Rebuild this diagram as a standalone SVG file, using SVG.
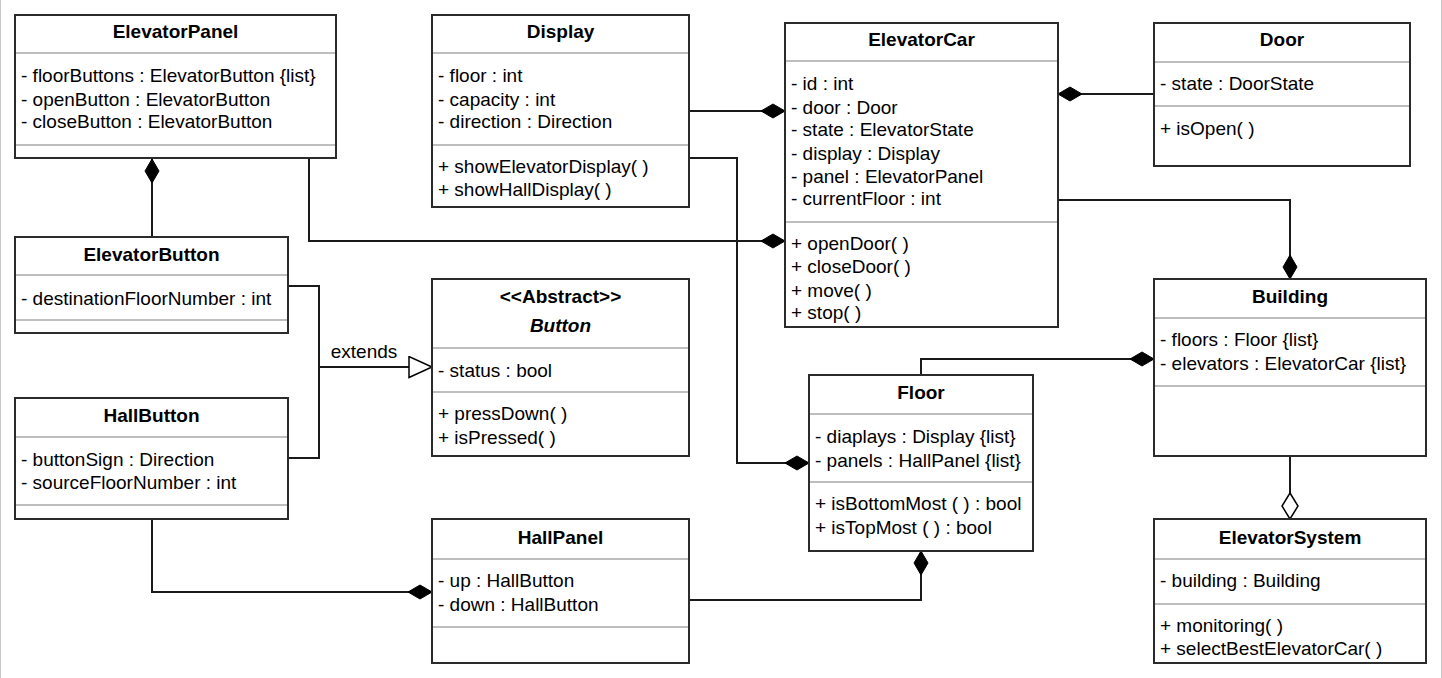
<svg xmlns="http://www.w3.org/2000/svg" width="1442" height="678" viewBox="0 0 1442 678">
<style>
  text { font-family: "Liberation Sans", Arial, sans-serif; font-size: 19px; fill: #000; }
  .t { font-weight: bold; text-anchor: middle; }
  .ti { font-weight: bold; font-style: italic; text-anchor: middle; }
  .box { fill: #fff; stroke: #2b2b2b; stroke-width: 2; }
  .sep { stroke: #a8a8a8; stroke-width: 1.5; fill: none; }
  .edge { fill: none; stroke: #1a1a1a; stroke-width: 2; }
  .frame { stroke: #c8c8c8; stroke-width: 1; }
</style>
<defs>
  <marker id="comp" markerUnits="userSpaceOnUse" markerWidth="26" markerHeight="16" viewBox="-1 -1 26 16" refX="0" refY="7" orient="auto">
    <path d="M0,7 L12,0 L24,7 L12,14 Z" fill="#000" stroke="#000" stroke-width="1"/>
  </marker>
  <marker id="agg" markerUnits="userSpaceOnUse" markerWidth="30" markerHeight="20" viewBox="-1 -1 30 20" refX="0" refY="8" orient="auto">
    <path d="M0,8 L13,0 L26,8 L13,16 Z" fill="#fff" stroke="#000" stroke-width="1.5"/>
  </marker>
  <marker id="gen" markerUnits="userSpaceOnUse" markerWidth="26" markerHeight="24" viewBox="-1 -1 26 24" refX="23" refY="10.5" orient="auto">
    <path d="M0,0 L23,10.5 L0,21 Z" fill="#fff" stroke="#000" stroke-width="1.5"/>
  </marker>
</defs>
<rect x="0" y="0" width="1442" height="678" fill="#fff"/>
<line class="frame" x1="0.5" y1="0" x2="0.5" y2="678"/>
<line class="frame" x1="1441.5" y1="0" x2="1441.5" y2="678"/>

<g id="connectors">
  <path class="edge" d="M152,159 L152,237" marker-start="url(#comp)"/>
  <path class="edge" d="M785,241 L309,241 L309,159" marker-start="url(#comp)"/>
  <path class="edge" d="M785,111 L689,111" marker-start="url(#comp)"/>
  <path class="edge" d="M809,463 L737,463 L737,158 L689,158" marker-start="url(#comp)"/>
  <path class="edge" d="M1058,94 L1154,94" marker-start="url(#comp)"/>
  <path class="edge" d="M1290,279 L1290,200 L1058,200" marker-start="url(#comp)"/>
  <path class="edge" d="M1154,359 L921,359 L921,375" marker-start="url(#comp)"/>
  <path class="edge" d="M1290,519 L1290,456" marker-start="url(#agg)"/>
  <path class="edge" d="M432,592 L152,592 L152,519" marker-start="url(#comp)"/>
  <path class="edge" d="M921,551 L921,600 L689,600" marker-start="url(#comp)"/>
  <path class="edge" d="M288,286 L319,286 L319,458 L288,458"/>
  <path class="edge" d="M319,367 L432,367" marker-end="url(#gen)"/>
  <text x="364" y="358" text-anchor="middle">extends</text>
</g>

<g id="ElevatorPanel">
  <rect class="box" x="15" y="15" width="321" height="143"/>
  <line class="sep" x1="16" y1="53" x2="335" y2="53"/>
  <line class="sep" x1="16" y1="145" x2="335" y2="145"/>
  <text class="t" x="175.5" y="38">ElevatorPanel</text>
  <text x="21" y="82">- floorButtons : ElevatorButton {list}</text>
  <text x="21" y="105.5">- openButton : ElevatorButton</text>
  <text x="21" y="128">- closeButton : ElevatorButton</text>
</g>

<g id="Display">
  <rect class="box" x="432" y="15" width="257" height="192"/>
  <line class="sep" x1="433" y1="53" x2="688" y2="53"/>
  <line class="sep" x1="433" y1="145" x2="688" y2="145"/>
  <text class="t" x="560.5" y="38">Display</text>
  <text x="438" y="82">- floor : int</text>
  <text x="438" y="105.5">- capacity : int</text>
  <text x="438" y="128">- direction : Direction</text>
  <text x="438" y="172.5">+ showElevatorDisplay( )</text>
  <text x="438" y="195.5">+ showHallDisplay( )</text>
</g>

<g id="ElevatorCar">
  <rect class="box" x="785" y="23" width="273" height="304"/>
  <line class="sep" x1="786" y1="61" x2="1057" y2="61"/>
  <line class="sep" x1="786" y1="222" x2="1057" y2="222"/>
  <text class="t" x="921.5" y="46">ElevatorCar</text>
  <text x="791" y="90">- id : int</text>
  <text x="791" y="113.5">- door : Door</text>
  <text x="791" y="136">- state : ElevatorState</text>
  <text x="791" y="159.5">- display : Display</text>
  <text x="791" y="182.5">- panel : ElevatorPanel</text>
  <text x="791" y="205">- currentFloor : int</text>
  <text x="791" y="249.5">+ openDoor( )</text>
  <text x="791" y="273">+ closeDoor( )</text>
  <text x="791" y="296.5">+ move( )</text>
  <text x="791" y="319">+ stop( )</text>
</g>

<g id="Door">
  <rect class="box" x="1154" y="23" width="256" height="143"/>
  <line class="sep" x1="1155" y1="62" x2="1409" y2="62"/>
  <line class="sep" x1="1155" y1="106" x2="1409" y2="106"/>
  <text class="t" x="1282" y="46">Door</text>
  <text x="1160" y="90">- state : DoorState</text>
  <text x="1160" y="134.5">+ isOpen( )</text>
</g>

<g id="ElevatorButton">
  <rect class="box" x="15" y="237" width="273" height="96"/>
  <line class="sep" x1="16" y1="275" x2="287" y2="275"/>
  <line class="sep" x1="16" y1="320" x2="287" y2="320"/>
  <text class="t" x="151.5" y="261">ElevatorButton</text>
  <text x="21" y="304.5">- destinationFloorNumber : int</text>
</g>

<g id="Button">
  <rect class="box" x="432" y="279" width="257" height="177"/>
  <line class="sep" x1="433" y1="348" x2="688" y2="348"/>
  <line class="sep" x1="433" y1="392" x2="688" y2="392"/>
  <text class="t" x="560.5" y="302.5">&lt;&lt;Abstract&gt;&gt;</text>
  <text class="ti" x="560.5" y="331.5">Button</text>
  <text x="438" y="377">- status : bool</text>
  <text x="438" y="419.5">+ pressDown( )</text>
  <text x="438" y="443.5">+ isPressed( )</text>
</g>

<g id="HallButton">
  <rect class="box" x="15" y="398" width="273" height="121"/>
  <line class="sep" x1="16" y1="437" x2="287" y2="437"/>
  <line class="sep" x1="16" y1="505" x2="287" y2="505"/>
  <text class="t" x="151.5" y="421.5">HallButton</text>
  <text x="21" y="465.5">- buttonSign : Direction</text>
  <text x="21" y="488.5">- sourceFloorNumber : int</text>
</g>

<g id="HallPanel">
  <rect class="box" x="432" y="519" width="257" height="144"/>
  <line class="sep" x1="433" y1="559" x2="688" y2="559"/>
  <line class="sep" x1="433" y1="627" x2="688" y2="627"/>
  <text class="t" x="560.5" y="543.5">HallPanel</text>
  <text x="438" y="586.5">- up : HallButton</text>
  <text x="438" y="610.5">- down : HallButton</text>
</g>

<g id="Floor">
  <rect class="box" x="809" y="375" width="224" height="176"/>
  <line class="sep" x1="810" y1="414" x2="1032" y2="414"/>
  <line class="sep" x1="810" y1="482" x2="1032" y2="482"/>
  <text class="t" x="921" y="398.5">Floor</text>
  <text x="815" y="442.5">- diaplays : Display {list}</text>
  <text x="815" y="466.5">- panels : HallPanel {list}</text>
  <text x="815" y="509.5">+ isBottomMost ( ) : bool</text>
  <text x="815" y="533.5">+ isTopMost ( ) : bool</text>
</g>

<g id="Building">
  <rect class="box" x="1154" y="279" width="272" height="177"/>
  <line class="sep" x1="1155" y1="318" x2="1425" y2="318"/>
  <line class="sep" x1="1155" y1="386" x2="1425" y2="386"/>
  <text class="t" x="1290" y="302.5">Building</text>
  <text x="1160" y="345.5">- floors : Floor {list}</text>
  <text x="1160" y="369.5">- elevators : ElevatorCar {list}</text>
</g>

<g id="ElevatorSystem">
  <rect class="box" x="1154" y="519" width="272" height="144"/>
  <line class="sep" x1="1155" y1="559" x2="1425" y2="559"/>
  <line class="sep" x1="1155" y1="604" x2="1425" y2="604"/>
  <text class="t" x="1290" y="543.5">ElevatorSystem</text>
  <text x="1160" y="587">- building : Building</text>
  <text x="1160" y="632">+ monitoring( )</text>
  <text x="1160" y="654.5">+ selectBestElevatorCar( )</text>
</g>
</svg>
